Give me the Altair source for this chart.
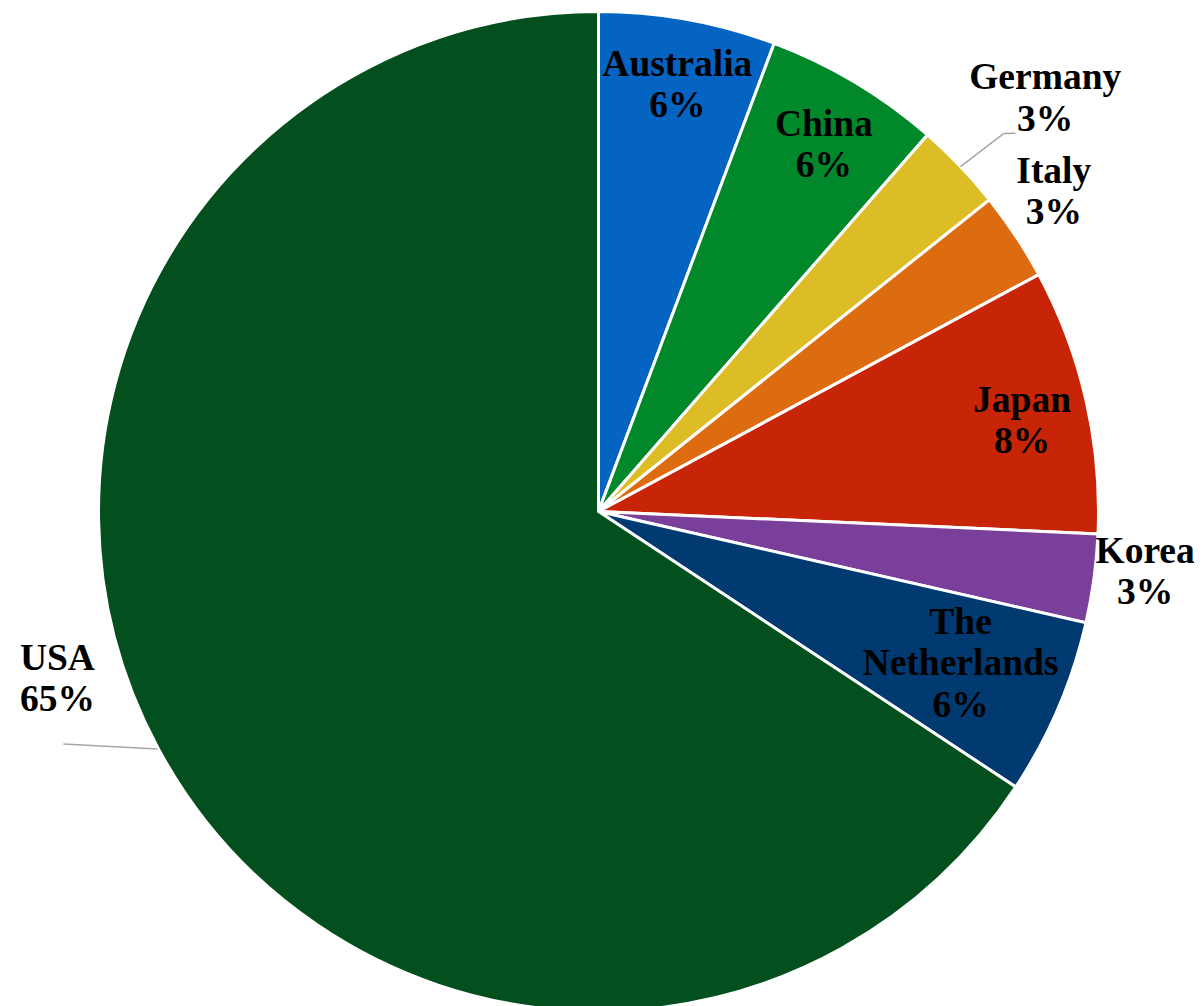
import altair as alt
import pandas as pd

# ---- data ----
categories = ["Australia", "China", "Germany", "Italy", "Japan", "Korea", "The Netherlands", "USA"]
values = [2, 2, 1, 1, 3, 1, 2, 23]
shown_pct = [6, 6, 3, 3, 8, 3, 6, 65]  # percentages as printed on the chart
colors = ["#0563C1", "#00882B", "#DDBD26", "#DD6B10", "#C72408", "#7A3F9B", "#003A70", "#03501E"]

# ---- layout (label placement in polar terms: radius px, angle offset deg) ----
label_r = [433, 430, 608, 556, 433, 550, 393, 566.5]
label_dt = [0.2, 0.75, 1.0, -1.6, 0.85, -1.35, -0.25, 11.05]
# leader line points (radius, angle offset)
leader = {
    "Germany": [(500, 0.1), (554, 0.7), (563, 1.5)],
    "USA": [(501, 0.0), (583.5, 4.8), (583.5, 4.8)],
}

CX, CY, R = 590.5, 503.5, 500
LH = 41.5

rows = []
for i, c in enumerate(categories):
    lp = leader.get(c)
    row = dict(order=i, category=c, value=values[i], shown=shown_pct[i], color=colors[i],
               lr=label_r[i], ldt=label_dt[i], has_leader=lp is not None)
    for k in range(3):
        row[f"r{k}"] = lp[k][0] if lp else 0
        row[f"t{k}"] = lp[k][1] if lp else 0
    rows.append(row)
df = pd.DataFrame(rows)

calc = {
    "mid": "(datum.cum - datum.value/2) / datum.total * 2 * PI",
    "label": "replace(datum.category, ' ', '\\n') + '\\n' + datum.shown + '%'",
}
base = (
    alt.Chart(df)
    .transform_joinaggregate(total="sum(value)")
    .transform_window(cum="sum(value)", sort=[alt.SortField("order", order="ascending")], frame=[None, 0])
    .transform_calculate(**calc)
    .transform_calculate(
        nl="length(split(datum.label, '\\n'))",
        lx=f"{CX} + datum.lr * sin(datum.mid + datum.ldt * PI / 180)",
        lyc=f"{CY} - datum.lr * cos(datum.mid + datum.ldt * PI / 180)",
        p0x=f"{CX} + datum.r0 * sin(datum.mid + datum.t0 * PI / 180)",
        p0y=f"{CY} - datum.r0 * cos(datum.mid + datum.t0 * PI / 180)",
        p1x=f"{CX} + datum.r1 * sin(datum.mid + datum.t1 * PI / 180)",
        p1y=f"{CY} - datum.r1 * cos(datum.mid + datum.t1 * PI / 180)",
        p2x=f"{CX} + datum.r2 * sin(datum.mid + datum.t2 * PI / 180)",
        p2y=f"{CY} - datum.r2 * cos(datum.mid + datum.t2 * PI / 180)",
    )
    .transform_calculate(ly=f"datum.lyc - (datum.nl - 1) / 2 * {LH}")
)

pie = alt.Chart(df).mark_arc(outerRadius=R, stroke="white", strokeWidth=3).encode(
    theta=alt.Theta("value:Q", stack=True),
    color=alt.Color("color:N", scale=None, legend=None),
    order=alt.Order("order:Q", sort="ascending"),
    x=alt.value(CX),
    y=alt.value(CY),
)

text = base.mark_text(
    font="Liberation Serif", fontWeight="bold", fontSize=37.5, lineHeight=LH,
    align="center", baseline="middle", color="black", lineBreak="\n",
).encode(
    x=alt.X("lx:Q", scale=None, axis=None),
    y=alt.Y("ly:Q", scale=None, axis=None),
    text="label:N",
)

lead1 = base.transform_filter("datum.has_leader").mark_rule(color="#A6A6A6", strokeWidth=1.5).encode(
    x=alt.X("p0x:Q", scale=None, axis=None),
    y=alt.Y("p0y:Q", scale=None, axis=None),
    x2="p1x:Q",
    y2="p1y:Q",
)
lead2 = base.transform_filter("datum.has_leader").mark_rule(color="#A6A6A6", strokeWidth=1.5).encode(
    x=alt.X("p1x:Q", scale=None, axis=None),
    y=alt.Y("p1y:Q", scale=None, axis=None),
    x2="p2x:Q",
    y2="p2y:Q",
)

chart = (
    alt.layer(pie, lead1, lead2, text)
    .properties(width=1186, height=998, padding=0, autosize=alt.AutoSizeParams(type="none"))
    .configure_view(stroke=None)
)

chart.save("out.html", embed_options={"renderer": "svg", "actions": False})
